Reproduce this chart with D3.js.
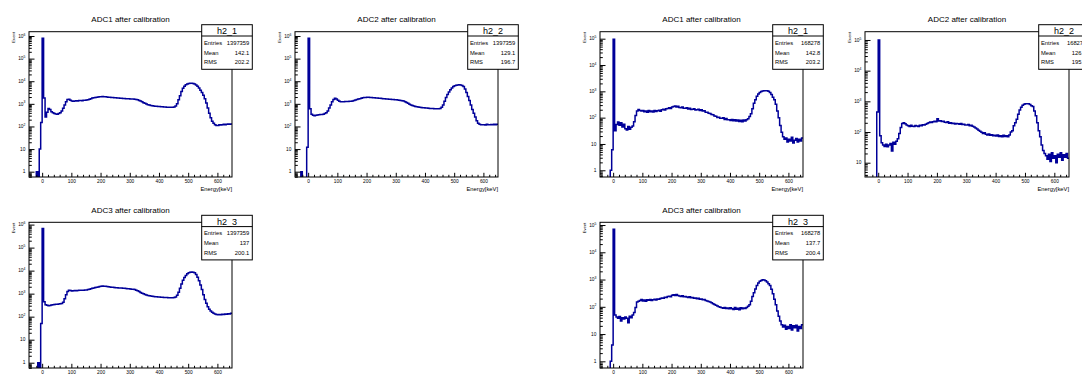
<!DOCTYPE html>
<html>
<head>
<meta charset="utf-8">
<script src="https://cdn.jsdelivr.net/npm/d3@7"></script>
<style>
  body { margin: 0; background: #fff; }
  svg { display: block; }
</style>
</head>
<body>
<svg id="c" width="1082" height="376"></svg>
<script>
// Energy binning of all spectra (keV)
const binStart = -45;
const binWidth = 5;
const xDomain = [-45, 650];
const xMajorTicks = [0, 100, 200, 300, 400, 500, 600];

// Counts per 5 keV bin, first bin starts at -45 keV (139 bins)
const adc1High = [
  0, 0, 0, 0, 0, 1, 0, 10, 150,
  800000, 1800, 260, 420, 620, 560, 450, 400, 370, 360,
  350, 370, 400, 480, 640, 900, 1250, 1550, 1600, 1450,
  1320, 1300, 1330, 1380, 1350, 1400, 1420, 1380, 1450, 1430,
  1480, 1520, 1600, 1700, 1800, 1850, 1900, 1950, 2000, 2050,
  2050, 2100, 2080, 2050, 2000, 1980, 1950, 1920, 1900, 1880,
  1850, 1820, 1800, 1780, 1750, 1740, 1720, 1700, 1680, 1660,
  1650, 1630, 1620, 1600, 1560, 1500, 1420, 1330, 1230, 1130,
  1050, 980, 920, 880, 850, 820, 800, 790, 780, 770,
  760, 750, 740, 730, 720, 715, 710, 700, 700, 710,
  720, 800, 1000, 1500, 2300, 3500, 4900, 6000, 7000, 7600,
  8000, 8200, 8200, 8000, 7500, 6800, 6000, 5000, 4000, 3200,
  2400, 1700, 1100, 650, 380, 240, 170, 140, 120, 110,
  110, 120, 115, 120, 125, 120, 125, 130, 125, 130
];
const adc2High = [
  0, 0, 0, 0, 1, 0, 0, 0, 12,
  800000, 600, 350, 310, 300, 310, 320, 330, 340, 340,
  350, 370, 400, 480, 650, 900, 1250, 1550, 1750, 1650,
  1450, 1300, 1250, 1230, 1250, 1260, 1280, 1270, 1300, 1300,
  1350, 1400, 1480, 1550, 1650, 1700, 1780, 1850, 1900, 1920,
  1950, 1950, 1930, 1900, 1880, 1850, 1820, 1800, 1780, 1760,
  1740, 1700, 1680, 1650, 1620, 1600, 1580, 1560, 1540, 1520,
  1500, 1480, 1450, 1420, 1380, 1320, 1250, 1150, 1050, 970,
  900, 850, 800, 770, 740, 720, 700, 690, 680, 670,
  660, 650, 640, 630, 620, 615, 610, 600, 600, 600,
  620, 700, 900, 1300, 1900, 2600, 3300, 4200, 5000, 5800,
  6300, 6600, 6800, 6900, 6800, 6400, 5800, 4500, 3200, 2100,
  1400, 900, 560, 380, 260, 180, 140, 125, 120, 118,
  120, 115, 125, 118, 120, 122, 118, 125, 120, 125
];
const adc1Low = [
  0, 0, 0, 0, 0, 0, 0, 1, 6,
  95000, 32, 55, 68, 52, 64, 44, 56, 38, 34,
  46, 36, 43, 48, 70, 120, 180, 205, 185, 178,
  188, 168, 180, 160, 186, 168, 178, 164, 188, 170,
  182, 192, 174, 198, 208, 194, 218, 225, 240, 222,
  252, 266, 278, 254, 270, 242, 236, 254, 228, 226,
  238, 214, 228, 206, 208, 218, 196, 200, 208, 186,
  198, 178, 182, 162, 162, 148, 145, 132, 130, 116,
  114, 102, 104, 94, 94, 100, 86, 92, 84, 84,
  78, 86, 76, 84, 74, 82, 72, 80, 70, 82,
  74, 84, 90, 110, 140, 220, 350, 480, 650, 800,
  900, 980, 1020, 1050, 1060, 1050, 1000, 900, 750, 600,
  480, 320, 180, 100, 50, 28, 19, 15, 17, 12,
  15, 13, 18, 11, 14, 16, 12, 15, 13, 17
];
const adc2Low = [
  0, 0, 0, 0, 0, 0, 0, 0, 450,
  100000, 75, 45, 38, 34, 40, 33, 38, 42, 24,
  46, 40, 50, 60, 90, 140, 190, 200, 185, 170,
  160, 152, 165, 155, 150, 162, 158, 150, 165, 160,
  172, 168, 180, 190, 200, 212, 205, 218, 225, 215,
  270, 228, 235, 220, 225, 210, 205, 215, 195, 200,
  188, 195, 182, 190, 185, 178, 190, 175, 180, 170,
  168, 175, 160, 165, 155, 145, 135, 125, 115, 105,
  98, 90, 94, 85, 80, 86, 78, 82, 75, 79,
  74, 80, 72, 76, 70, 78, 72, 75, 70, 80,
  100, 110, 160, 200, 260, 380, 520, 640, 740, 810,
  840, 830, 840, 790, 720, 680, 480, 340, 200, 110,
  70, 38, 25, 20, 17, 13, 19, 11, 21, 14,
  17, 10, 19, 15, 21, 12, 18, 15, 20, 14
];
const adc3High = [
  0, 0, 0, 0, 0, 0, 1, 0, 50,
  670000, 440, 330, 310, 300, 305, 320, 330, 340, 350,
  345, 355, 360, 370, 420, 600, 900, 1250, 1400, 1380,
  1320, 1350, 1370, 1340, 1380, 1400, 1390, 1420, 1410, 1440,
  1450, 1500, 1550, 1620, 1700, 1780, 1850, 1900, 1950, 2050,
  2100, 2150, 2120, 2100, 2050, 2000, 1960, 1920, 1880, 1850,
  1820, 1800, 1780, 1760, 1740, 1720, 1700, 1680, 1650, 1620,
  1600, 1570, 1540, 1500, 1420, 1330, 1230, 1130, 1050, 990,
  930, 880, 840, 810, 790, 770, 760, 740, 730, 720,
  710, 700, 690, 685, 680, 675, 670, 670, 665, 670,
  680, 720, 850, 1150, 1700, 2600, 3800, 5000, 6200, 7300,
  8100, 8600, 8800, 8600, 8000, 6800, 5200, 3600, 2400, 1500,
  900, 560, 380, 270, 210, 175, 155, 140, 130, 125,
  122, 125, 120, 128, 125, 130, 128, 135, 132, 140
];
const adc3Low = [
  0, 0, 0, 0, 0, 0, 0, 1, 4,
  70000, 50, 42, 38, 44, 30, 40, 36, 42, 38,
  26, 45, 40, 50, 62, 95, 150, 160, 170, 185,
  165, 178, 160, 182, 175, 185, 170, 180, 190, 178,
  195, 188, 200, 210, 205, 225, 220, 238, 245, 232,
  265, 275, 258, 280, 262, 250, 240, 255, 232, 240,
  228, 220, 232, 215, 220, 205, 212, 198, 205, 190,
  195, 180, 185, 170, 165, 158, 150, 140, 130, 122,
  115, 108, 100, 96, 92, 88, 95, 86, 90, 84,
  92, 85, 80, 94, 82, 88, 78, 92, 84, 90,
  86, 95, 105, 120, 160, 240, 330, 450, 600, 740,
  860, 930, 980, 960, 900, 820, 700, 600, 440, 300,
  190, 120, 70, 45, 30, 22, 18, 21, 15, 19,
  16, 22, 14, 20, 17, 21, 13, 19, 16, 22
];

// Histogram pads: frame = [left, top, right, bottom], yRange = log10 limits
const panels = [
  { title: "ADC1 after calibration", name: "h2_1", entries: "1397359", mean: "142.1", rms: "202.2",
    counts: adc1High, yRange: [-0.235, 6.19], frame: [29, 31.7, 232, 177] },
  { title: "ADC2 after calibration", name: "h2_2", entries: "1397359", mean: "129.1", rms: "196.7",
    counts: adc2High, yRange: [-0.235, 6.19], frame: [295, 31.7, 498, 177] },
  { title: "ADC1 after calibration", name: "h2_1", entries: "168278", mean: "142.8", rms: "203.2",
    counts: adc1Low, yRange: [-0.255, 5.266], frame: [600, 31.7, 803, 177] },
  { title: "ADC2 after calibration", name: "h2_2", entries: "168278", mean: "126.4", rms: "195.3",
    counts: adc2Low, yRange: [0.534, 5.27], frame: [865, 31.7, 1069, 177] },
  { title: "ADC3 after calibration", name: "h2_3", entries: "1397359", mean: "137", rms: "200.1",
    counts: adc3High, yRange: [-0.23, 6.1], frame: [29, 222.3, 232, 368] },
  { title: "ADC3 after calibration", name: "h2_3", entries: "168278", mean: "137.7", rms: "200.4",
    counts: adc3Low, yRange: [-0.245, 5.1], frame: [600, 222.3, 803, 368] }
];

const FONT = '"Liberation Sans", Arial, Helvetica, sans-serif';
const HIST_COLOR = "#000099";
const svg = d3.select("#c");
const defs = svg.append("defs");

panels.forEach((p, k) => {
  const [L, T, R, B] = p.frame;
  const lo = Math.pow(10, p.yRange[0]);
  const hi = Math.pow(10, p.yRange[1]);
  const x = d3.scaleLinear().domain(xDomain).range([L, R]);
  const y = d3.scaleLog().domain([lo, hi]).range([B, T]);
  const g = svg.append("g").attr("font-family", FONT);

  // clip the spectrum to the frame
  const clipId = "frame-clip-" + k;
  defs.append("clipPath").attr("id", clipId)
    .append("rect").attr("x", L).attr("y", T).attr("width", R - L).attr("height", B - T);

  // step-line histogram; empty bins drop below the frame
  const floor = lo / 4;
  const pts = p.counts.map((c, i) => [binStart + i * binWidth, Math.max(c, floor)]);
  pts.push([binStart + p.counts.length * binWidth, pts[pts.length - 1][1]]);
  const line = d3.line()
    .x(d => x(d[0]))
    .y(d => y(d[1]))
    .curve(d3.curveStepAfter);
  g.append("path")
    .attr("d", line(pts))
    .attr("clip-path", `url(#${clipId})`)
    .attr("fill", "none")
    .attr("stroke", HIST_COLOR)
    .attr("stroke-width", 1.5);

  // x axis: major ticks every 100 keV, minor every 20 keV, drawn inward
  const xMinor = d3.range(-40, 650, 20).filter(v => v % 100 !== 0);
  const xAxisMinor = g.append("g").attr("transform", `translate(0,${B})`)
    .call(d3.axisBottom(x).tickValues(xMinor).tickSize(-2.2).tickFormat(""));
  const xAxisMajor = g.append("g").attr("transform", `translate(0,${B})`)
    .call(d3.axisBottom(x).tickValues(xMajorTicks).tickSize(-4.2).tickPadding(2.6).tickFormat(d3.format("d")));
  [xAxisMinor, xAxisMajor].forEach(a => a.select(".domain").remove());
  xAxisMajor.selectAll("text")
    .attr("font-family", FONT).attr("font-size", 4.8).attr("fill", "#000").attr("dy", "0.75em");
  xAxisMajor.attr("font-family", null).attr("font-size", null);

  // y axis: decades with labels, 2..9 minors, drawn inward
  const eLo = Math.floor(p.yRange[0]), eHi = Math.ceil(p.yRange[1]);
  const yMajor = d3.range(eLo, eHi + 1).map(e => Math.pow(10, e)).filter(v => v >= lo && v <= hi);
  const yMinor = [];
  d3.range(eLo, eHi + 1).forEach(e => {
    for (let m = 2; m <= 9; m++) {
      const v = m * Math.pow(10, e);
      if (v >= lo && v <= hi) yMinor.push(v);
    }
  });
  const yAxisMinor = g.append("g").attr("transform", `translate(${L},0)`)
    .call(d3.axisLeft(y).tickValues(yMinor).tickSize(-2.8).tickFormat(""));
  const yAxisMajor = g.append("g").attr("transform", `translate(${L},0)`)
    .call(d3.axisLeft(y).tickValues(yMajor).tickSize(-5.5).tickFormat(""));
  [yAxisMinor, yAxisMajor].forEach(a => a.select(".domain").remove());

  // decade labels: 1, 10, 10^n
  yMajor.forEach(v => {
    const e = Math.round(Math.log10(v));
    const t = g.append("text")
      .attr("x", L - 3.6).attr("y", y(v) + 1.7)
      .attr("text-anchor", "end").attr("font-size", 4.8).attr("fill", "#000");
    if (e === 0) t.text("1");
    else if (e === 1) t.text("10");
    else {
      t.append("tspan").text("10");
      t.append("tspan").attr("font-size", 3.4).attr("dy", -2.1).text(String(e));
    }
  });

  // frame
  g.append("rect")
    .attr("x", L).attr("y", T).attr("width", R - L).attr("height", B - T)
    .attr("fill", "none").attr("stroke", "#000").attr("stroke-width", 1);

  // axis titles
  g.append("text")
    .attr("transform", `translate(${L - 14.3},${T + 0.3}) rotate(-90)`)
    .attr("text-anchor", "end").attr("font-size", 4.2).attr("fill", "#000")
    .text("Event");
  g.append("text")
    .attr("x", R).attr("y", B + 14)
    .attr("text-anchor", "end").attr("font-size", 5.8).attr("fill", "#000")
    .text("Energy[keV]");

  // histogram title
  g.append("text")
    .attr("x", (L + R) / 2).attr("y", T - 9.5)
    .attr("text-anchor", "middle").attr("font-size", 8).attr("fill", "#000")
    .text(p.title);

  // statistics box
  const bx = R - 30.3, bw = 50.6, by = T - 7, bh = 44.6;
  const st = g.append("g");
  st.append("rect").attr("x", bx).attr("y", by).attr("width", bw).attr("height", bh)
    .attr("fill", "#fff").attr("stroke", "#000").attr("stroke-width", 1);
  st.append("line").attr("x1", bx).attr("x2", bx + bw).attr("y1", T + 4.3).attr("y2", T + 4.3)
    .attr("stroke", "#000").attr("stroke-width", 1);
  st.append("text").attr("x", bx + bw / 2).attr("y", T + 2.3)
    .attr("text-anchor", "middle").attr("font-size", 9).attr("fill", "#000").text(p.name);
  const rows = [["Entries", p.entries], ["Mean", p.mean], ["RMS", p.rms]];
  rows.forEach((r, i) => {
    const yy = T + 13 + i * 9.8;
    st.append("text").attr("x", bx + 2.3).attr("y", yy)
      .attr("font-size", 5.8).attr("fill", "#000").text(r[0]);
    st.append("text").attr("x", bx + bw - 3).attr("y", yy)
      .attr("text-anchor", "end").attr("font-size", 5.8).attr("fill", "#000").text(r[1]);
  });
});
</script>
</body>
</html>
